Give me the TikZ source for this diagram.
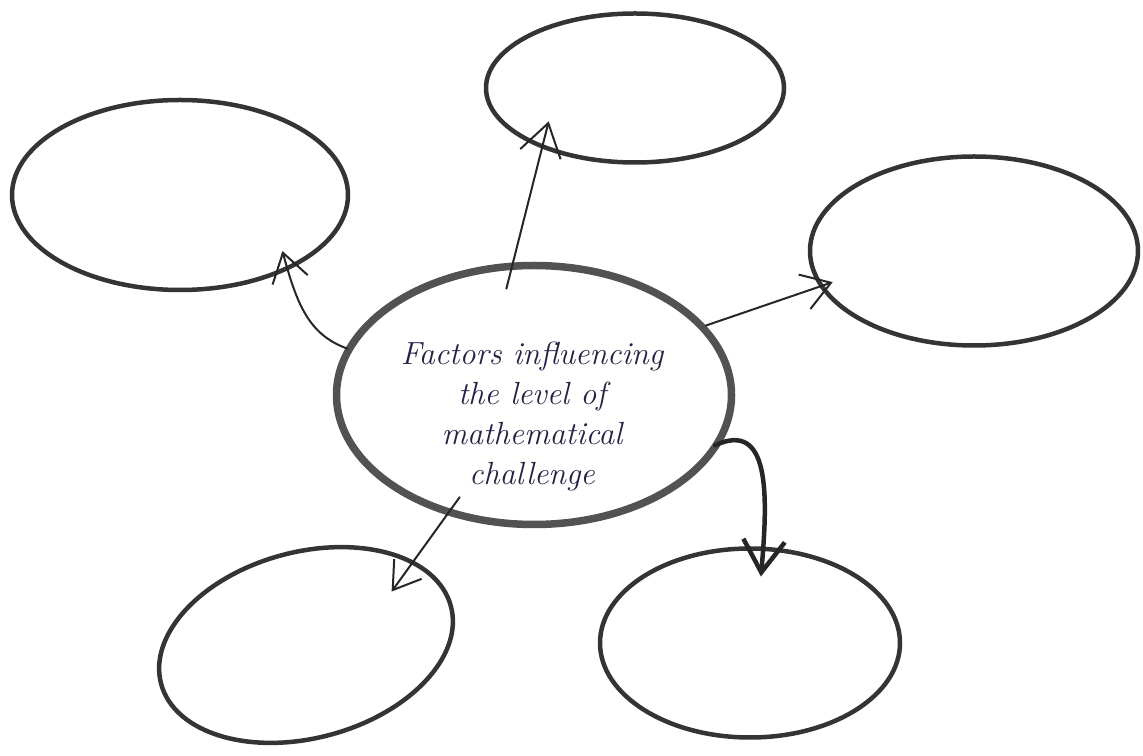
\documentclass[tikz,border=0pt]{standalone}
\usetikzlibrary{shapes.geometric,arrows.meta}
\definecolor{ink}{RGB}{38,32,68}
\definecolor{pencil}{RGB}{52,52,52}
\begin{document}
\begin{tikzpicture}[x=1pt, y=1pt,
    main/.style = {draw=pencil, ellipse, line width=4.5pt, inner sep=0pt},
    arr/.style = {draw=black!85, line width=2pt, line cap=round, line join=round},
    barb/.style = {-{Straight Barb[length=#1, width=1.3*#1]}}]
\useasboundingbox (0,0) rectangle (1143,755);
% centre
\node[main, draw=pencil!85, line width=7.5pt, minimum width=395pt, minimum height=259pt] (c) at (534,360) {};
\node[font=\itshape\fontsize{32}{40}\selectfont, text=ink, align=center] (txt) at (532,338)
    {Factors influencing\\the level of\\mathematical\\challenge};
% outer blobs
\node[main, minimum width=336pt, minimum height=190pt] (f1) at (180,560) {};
\node[main, minimum width=298pt, minimum height=149pt] (f2) at (635,667) {};
\node[main, minimum width=328pt, minimum height=189pt] (f3) at (974,504) {};
\node[main, minimum width=300pt, minimum height=186pt, rotate=15] (f4) at (306,110) {};
\node[main, minimum width=300pt, minimum height=189pt] (f5) at (750,112) {};
% arrows
\draw[arr, barb=28pt, shorten <=-2pt, shorten >=-20pt] (c.166) to[out=160, in=-75] (f1.-35);
\draw[arr, barb=32pt, shorten <=-27pt, shorten >=-28pt] (c.99) -- (f2.213);
\draw[arr, barb=28pt, shorten >=-14pt] (c.22) -- (f3.193);
\draw[arr, barb=26pt, shorten <=-22pt, shorten >=-38pt] (c.234) -- (f4.23);
\draw[arr, line width=4.5pt, barb=32pt, shorten <=-8pt, shorten >=-30pt] (c.-14) to[out=25, in=85, looseness=1.2] (f5.82);
\end{tikzpicture}
\end{document}
